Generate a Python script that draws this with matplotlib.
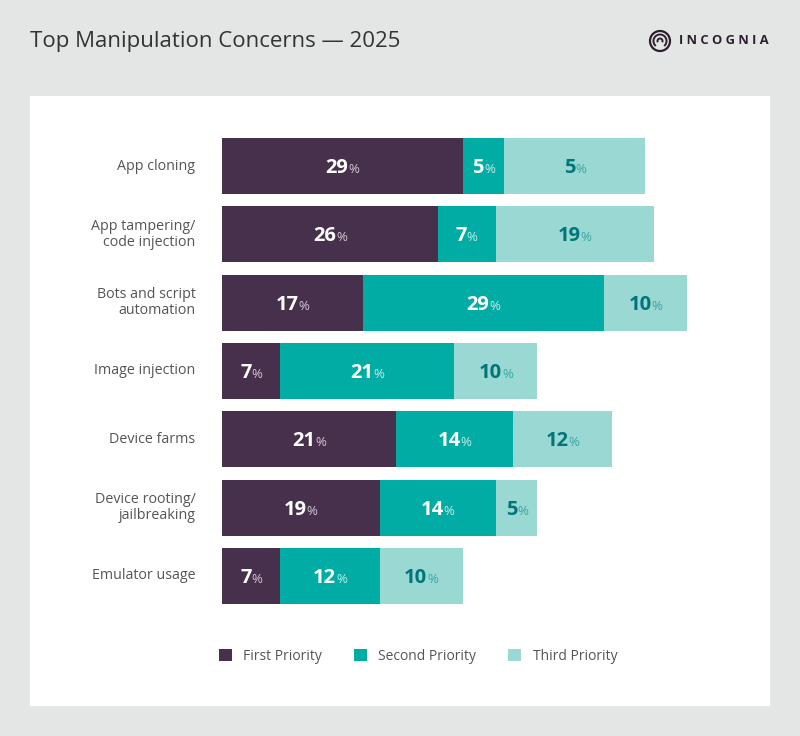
import matplotlib.pyplot as plt
from matplotlib.patches import Rectangle, Patch, Circle, Arc
from matplotlib.transforms import offset_copy

plt.rcParams['font.family'] = ['Open Sans', 'DejaVu Sans']

categories = ["App cloning", "App tampering/\ncode injection", "Bots and script\nautomation",
              "Image injection", "Device farms", "Device rooting/\njailbreaking", "Emulator usage"]
first = [29, 26, 17, 7, 21, 19, 7]
second = [5, 7, 29, 21, 14, 14, 12]
# drawn lengths of the third segment as they appear (the first one is drawn longer than its label)
third = [17, 19, 10, 10, 12, 5, 10]
third_labels = [5, 19, 10, 10, 12, 5, 10]
series_names = ["First Priority", "Second Priority", "Third Priority"]

c_first = "#47304b"
c_second = "#00aca3"
c_third = "#9ad8d4"

W, H = 800, 736
fig = plt.figure(figsize=(W / 100, H / 100), dpi=100)
fig.patch.set_facecolor("#e4e6e5")

# white panel
fig.patches.append(Rectangle((30 / W, 1 - 706 / H), 740 / W, 610 / H,
                             transform=fig.transFigure, facecolor="white", edgecolor="none", zorder=-5))

fig.text(30 / W, 1 - 42 / H, "Top Manipulation Concerns \u2014 2025", fontsize=16,
         color="#333333", va="center", ha="left")

# logo
ly = 1 - 41 / H
fig.patches.append(Circle((660, H - 41), 10, transform=None, fill=False, lw=1.6, edgecolor="#2d1f30"))
fig.patches.append(Arc((660, H - 41), 13, 13, theta1=-50, theta2=230, transform=None, lw=1.4, edgecolor="#2d1f30"))
fig.patches.append(Arc((660, H - 41), 5, 5, theta1=-30, theta2=210, transform=None, lw=1.4, edgecolor="#2d1f30"))
fig.text(679 / W, ly, "I N C O G N I A", fontsize=9.3, fontweight="bold", color="#2d1f30",
         va="center", ha="left")

ax = fig.add_axes([222 / W, 1 - 610 / H, (720 - 222) / W, 478 / H])
ax.set_zorder(2)
ax.set_xlim(0, 60)
ax.set_ylim(len(categories) - 0.5, -0.5)
ax.axis("off")

y = list(range(len(categories)))
h = 0.82
left2 = [a for a in first]
left3 = [a + b for a, b in zip(first, second)]
ax.barh(y, first, height=h, color=c_first)
ax.barh(y, second, left=left2, height=h, color=c_second)
ax.barh(y, third, left=left3, height=h, color=c_third)

pairs = []


def seg_label(x, yy, num, col, pcol):
    t1 = ax.text(x, yy, str(num), ha="left", va="baseline", fontsize=14.5, fontweight="bold", color=col)
    t2 = ax.text(x, yy, "%", ha="left", va="baseline", fontsize=9.5, color=pcol)
    pairs.append((t1, t2))


for i in y:
    seg_label(first[i] / 2, i, first[i], "white", "#d2c8d4")
    seg_label(left2[i] + second[i] / 2, i, second[i], "white", "#c4ece9")
    seg_label(left3[i] + third[i] / 2, i, third_labels[i], "#00767a", "#3aa6a4")
    ax.text(-3.2, i, categories[i], ha="right", va="center", fontsize=10.3, color="#555555",
            linespacing=1.1)

handles = [Patch(facecolor=c, edgecolor="none") for c in (c_first, c_second, c_third)]
fig.legend(handles, series_names, loc="center", bbox_to_anchor=(418 / W, 1 - 656 / H), ncol=3,
           frameon=False, fontsize=10, handlelength=0.95, handleheight=0.95, handletextpad=0.8,
           columnspacing=2.3, labelcolor="#555555")

# centre number + "%" as one group inside each segment
fig.canvas.draw()
r = fig.canvas.get_renderer()
for t1, t2 in pairs:
    w1 = t1.get_window_extent(r).width
    w2 = t2.get_window_extent(r).width
    gap = 0.5
    start = -(w1 + gap + w2) / 2
    t1.set_transform(offset_copy(ax.transData, fig=fig, x=round(start), y=-7, units="dots"))
    t2.set_transform(offset_copy(ax.transData, fig=fig, x=round(start + w1 + gap), y=-7, units="dots"))

fig.savefig("out.png", dpi=100, facecolor=fig.get_facecolor())
